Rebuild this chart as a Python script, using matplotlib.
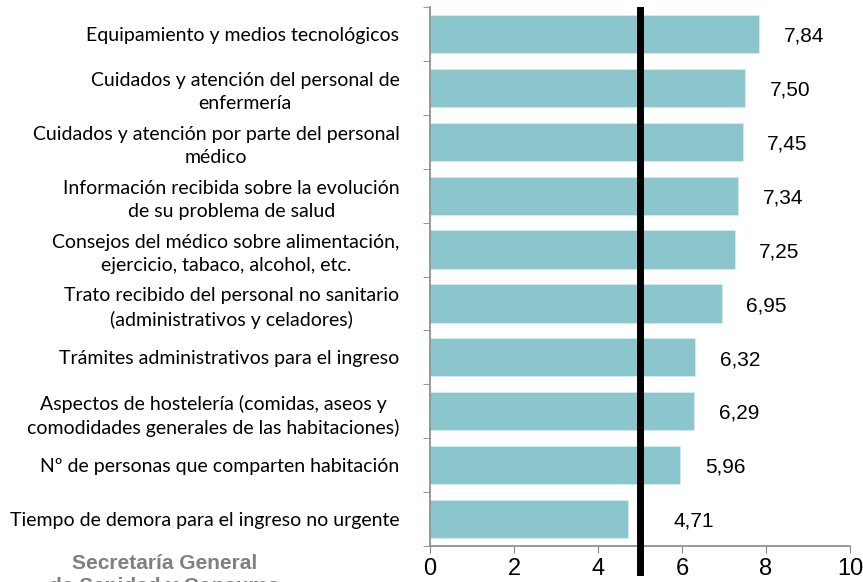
import matplotlib.pyplot as plt
import numpy as np

# --- Data ---
categories = [
    "Equipamiento y medios tecnológicos",
    "Cuidados y atención del personal de\nenfermería",
    "Cuidados y atención por parte del personal\nmédico",
    "Información recibida sobre la evolución\nde su problema de salud",
    "Consejos del médico sobre alimentación,\nejercicio, tabaco, alcohol, etc.",
    "Trato recibido del personal no sanitario\n(administrativos y celadores)",
    "Trámites administrativos para el ingreso",
    "Aspectos de hostelería (comidas, aseos y\ncomodidades generales de las habitaciones)",
    "Nº de personas que comparten habitación",
    "Tiempo de demora para el ingreso no urgente",
]
scores = [7.84, 7.50, 7.45, 7.34, 7.25, 6.95, 6.32, 6.29, 5.96, 4.71]
score_labels = ["7,84", "7,50", "7,45", "7,34", "7,25", "6,95", "6,32", "6,29", "5,96", "4,71"]
reference = 5
x_ticks = [0, 2, 4, 6, 8, 10]

bar_color = "#8cc6cd"
spine_color = "#868686"

# --- Figure ---
fig = plt.figure(figsize=(8.63, 5.82), dpi=100)
ax = fig.add_axes([0.4983, 0.0619, 0.4867, 0.926])

y = np.arange(len(categories))
ax.barh(y, scores, height=0.71, color=bar_color, edgecolor="#d4ecee", linewidth=0.6, zorder=2)

# value labels, kept clear of the reference line
for yi, v, lab in zip(y, scores, score_labels):
    ax.text(max(v + 0.58, reference + 0.8), yi + 0.04, lab, va="center", ha="left",
            fontsize=15, family="Liberation Sans", color="black")

# thick reference line at 5
ax.axvline(reference, ymin=-0.048, ymax=0.994, color="black", linewidth=5,
           clip_on=False, zorder=3)

ax.set_xlim(0, 10)
ax.set_ylim(len(categories) - 0.5, -0.5)
ax.set_xticks(x_ticks)
ax.set_xticklabels([str(t) for t in x_ticks], fontsize=17, family="Liberation Sans")
ax.tick_params(axis="x", length=5, color=spine_color, pad=4)

ax.set_yticks(y)
ax.set_yticklabels(categories, fontsize=14, family="Lato", linespacing=1.4)
for t in ax.get_yticklabels():
    t.set_multialignment("center")
ax.tick_params(axis="y", which="major", length=0, pad=22)
ax.set_yticks(np.arange(-0.5, len(categories)), minor=True)
ax.tick_params(axis="y", which="minor", length=5, color=spine_color)

for side in ["top", "right"]:
    ax.spines[side].set_visible(False)
for side in ["left", "bottom"]:
    ax.spines[side].set_color(spine_color)
    ax.spines[side].set_linewidth(1.2)

# source footer, second line clipped by the figure edge as in the original
fig.text(0.191, 0.032, "Secretaría General", ha="center", va="center", fontsize=15,
         fontweight="bold", family="Liberation Sans", color="#808080")
fig.text(0.191, -0.008, "de Sanidad y Consumo", ha="center", va="center", fontsize=15,
         fontweight="bold", family="Liberation Sans", color="#808080")

fig.savefig("out.png", dpi=100)
